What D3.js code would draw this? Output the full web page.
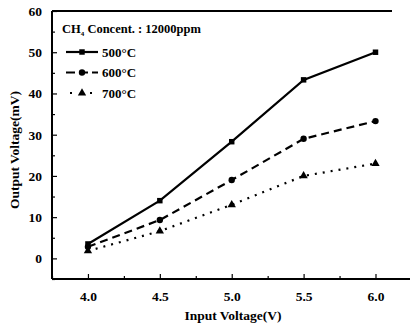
<!DOCTYPE html>
<html><head><meta charset="utf-8">
<script src="https://cdn.jsdelivr.net/npm/d3@7"></script>
<style>body{margin:0;background:#fff}svg{display:block}text{font-family:"Liberation Serif","Times New Roman",serif;font-weight:bold;fill:#000}</style>
</head><body><svg id="c" width="410" height="327"></svg>
<script>
const xVals = [4.0, 4.5, 5.0, 5.5, 6.0];
const s500 = [3.5, 14, 28.3, 43.3, 50];
const s600 = [2.8, 9.3, 19, 29, 33.3];
const s700 = [1.8, 6.6, 13, 20, 23];
const seriesNames = ["500\u00B0C", "600\u00B0C", "700\u00B0C"];
const xTicks = [4.0, 4.5, 5.0, 5.5, 6.0];
const yTicks = [0, 10, 20, 30, 40, 50, 60];

const svg = d3.select("#c");
const L = 52, R = 410, T = 11, B = 279;
const x = d3.scaleLinear().domain([3.75, 6.24]).range([L, R]);
const y = d3.scaleLinear().domain([-5, 60]).range([B, T]);

// axes
const gx = svg.append("g").attr("transform", `translate(0,${B})`)
  .call(d3.axisBottom(x).tickValues(xTicks).tickFormat(d3.format(".1f")).tickSize(-5).tickPadding(12));
const gxm = svg.append("g").attr("transform", `translate(0,${B})`)
  .call(d3.axisBottom(x).tickValues([3.75,4.25,4.75,5.25,5.75]).tickFormat("").tickSize(-3));
const gy = svg.append("g").attr("transform", `translate(${L},0)`)
  .call(d3.axisLeft(y).tickValues(yTicks).tickSize(-5).tickPadding(10));
const gym = svg.append("g").attr("transform", `translate(${L},0)`)
  .call(d3.axisLeft(y).tickValues([-5,5,15,25,35,45,55]).tickFormat("").tickSize(-3));
[gx,gxm,gy,gym].forEach(g=>{g.select(".domain").remove(); g.selectAll("line").attr("stroke","#000").attr("stroke-width",1.2);});
gx.selectAll("text").style("font-size","13.5px").attr("font-family","Liberation Serif").attr("font-weight","bold");
gy.selectAll("text").style("font-size","13.5px").attr("font-family","Liberation Serif").attr("font-weight","bold");
// frame
svg.append("line").attr("x1",L).attr("x2",L).attr("y1",T).attr("y2",B).attr("stroke","#000").attr("stroke-width",2);
svg.append("line").attr("x1",L).attr("x2",R).attr("y1",B).attr("y2",B).attr("stroke","#000").attr("stroke-width",2);
svg.append("line").attr("x1",L).attr("x2",R-18).attr("y1",T).attr("y2",T).attr("stroke","#000").attr("stroke-width",2);

// axis titles
svg.append("text").attr("x", 233).attr("y", 320).attr("text-anchor","middle").style("font-size","13.5px").text("Input Voltage(V)");
svg.append("text").attr("transform","translate(19,150) rotate(-90)").attr("text-anchor","middle").style("font-size","13.5px").text("Output Voltage(mV)");

// series
const series = [
  {name: seriesNames[0], vals: s500, dash: null, shape: d3.symbolSquare, size: 30},
  {name: seriesNames[1], vals: s600, dash: "8,5", shape: d3.symbolCircle, size: 32},
  {name: seriesNames[2], vals: s700, dash: "2,6", shape: d3.symbolTriangle, size: 30}
];
const line = d3.line().x((d,i)=>x(xVals[i])).y(d=>y(d));
series.forEach(s=>{
  svg.append("path").datum(s.vals).attr("d", line).attr("fill","none").attr("stroke","#000")
    .attr("stroke-width",2.2).attr("stroke-dasharray", s.dash);
  svg.selectAll(null).data(s.vals).enter().append("path")
    .attr("d", d3.symbol().type(s.shape).size(s.size))
    .attr("transform",(d,i)=>`translate(${x(xVals[i])},${y(d)})`).attr("fill","#000");
});

// legend
const tt = svg.append("text").attr("x",62).attr("y",33).style("font-size","12.5px");
tt.append("tspan").text("CH");
tt.append("tspan").attr("dy",3).style("font-size","7px").text("4");
tt.append("tspan").attr("dy",-3).text(" Concent. : 12000ppm");
series.forEach((s,i)=>{
  const yy = 52 + i*20.5;
  svg.append("line").attr("x1",66).attr("x2",98).attr("y1",yy).attr("y2",yy).attr("stroke","#000")
    .attr("stroke-width",2.2).attr("stroke-dasharray", s.dash ? (i===1 ? "9,4" : "2,8") : null)
    .attr("stroke-dashoffset", i===2 ? -4 : 0);
  svg.append("path").attr("d", d3.symbol().type(s.shape).size(s.size)).attr("transform",`translate(82,${yy})`).attr("fill","#000");
  svg.append("text").attr("x",102).attr("y",yy+4.5).style("font-size","13px").text(s.name);
});
</script></body></html>
